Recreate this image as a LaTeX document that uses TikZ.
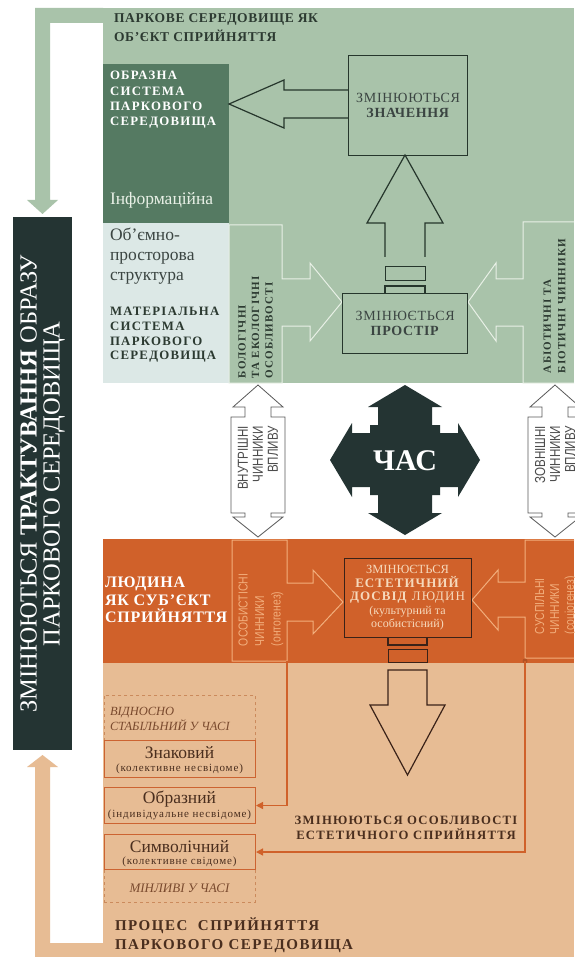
\documentclass[tikz,border=0pt]{standalone}
\usepackage{fontspec}
\setmainfont{Liberation Serif}
\newfontfamily\hdf[LetterSpace=10]{Liberation Serif}
\newfontfamily\hdg[LetterSpace=5]{Liberation Serif}
\newfontfamily\hdh[LetterSpace=8]{Liberation Serif}
\newfontfamily\nsans[FakeStretch=0.8]{Liberation Sans}
\usetikzlibrary{arrows.meta}
\definecolor{pgreen}{HTML}{A9C3AA}
\definecolor{dgreen}{HTML}{557A62}
\definecolor{pale}{HTML}{DCE8E6}
\definecolor{lline}{HTML}{E8F0E6}
\definecolor{dline}{HTML}{26362C}
\definecolor{dbox}{HTML}{243433}
\definecolor{orng}{HTML}{D0612A}
\definecolor{oline}{HTML}{F2AE7C}
\definecolor{tanc}{HTML}{E7BC94}
\definecolor{tline}{HTML}{CC6331}
\definecolor{tdash}{HTML}{CB8A5C}
\definecolor{ttext}{HTML}{4A2E1E}
\definecolor{gtext}{HTML}{2C3A31}
\definecolor{ltext}{HTML}{F6D9BC}
\definecolor{itext}{HTML}{7A4A2E}
\definecolor{dtext}{HTML}{3B4542}
\definecolor{edark}{HTML}{3A2218}
\begin{document}
\begin{tikzpicture}[x=1pt,y=-1pt,line join=miter,
  txt/.style={inner sep=0pt,outer sep=0pt},
  dl/.style={draw=dline,line width=1.2pt},
  ll/.style={draw=lline,line width=1pt},
  ol/.style={draw=oline,line width=1pt},
  el/.style={draw=edark,line width=1.2pt},
  sbox/.style={draw=tline,line width=1pt,minimum width=151,minimum height=#1,anchor=north west,inner sep=0pt},
  dbx/.style={draw=tdash,dashed,line width=0.8pt,minimum width=151,minimum height=#1,anchor=north west,inner sep=0pt},
  conn/.style={draw=orng,line width=1.3pt,-{Triangle[length=7pt,width=7pt]}},
  dblarr/.style={fill=white,draw=black!65,line width=0.8pt},
]
\useasboundingbox (0,0) rectangle (574,957);
\fill[white] (0,0) rectangle (574,957);

% ---------- green panel ----------
\fill[pgreen] (103,8) rectangle (574,383);
\fill[pgreen] (103,8) -- (35,8) -- (35,200) -- (27,200) -- (42.5,214) -- (58,200) -- (50,200) -- (50,23) -- (103,23) -- cycle;
\node[fill=dgreen,minimum width=126,minimum height=159,anchor=north west,inner sep=0pt] (obrsys) at (103,64) {};
\node[fill=pale,minimum width=126,minimum height=160,anchor=north west,inner sep=0pt] (matsys) at (103,223) {};

% left light column + arrow
\draw[ll] (229,225) -- (282,225) -- (282,279) -- (310,279) -- (310,263) -- (342,302) -- (310,341) -- (310,326) -- (282,326) -- (282,383) -- (229,383) -- cycle;
% right light column + arrow
\draw[ll] (574,222) -- (523,222) -- (523,279) -- (496,279) -- (496,263) -- (468,302) -- (496,341) -- (496,326) -- (523,326) -- (523,383) -- (574,383);

% ЗНАЧЕННЯ box and arrows
\node[dl,minimum width=119,minimum height=100,anchor=north west,inner sep=0pt] (znach) at (348,55) {};
\draw[dl] (znach.west |- 0,90) -- (284,90) -- (284,80) -- (229,104) -- (284,128) -- (284,118) -- (znach.west |- 0,118);
\draw[dl] (385,257) -- (385,223) -- (367,223) -- (405,155) -- (443,223) -- (425,223) -- (425,257);
\node[dl,minimum width=40,minimum height=14,anchor=north west,inner sep=0pt] (grect) at (385,266) {};
\draw[dl] (385,293) -- (385,286) -- (425,286) -- (425,293);
\node[dl,minimum width=125,minimum height=60,anchor=north west,inner sep=0pt] (prost) at (342,293) {};

% texts green
\node[txt,anchor=west,align=left,font=\hdg\bfseries\fontsize{13.5}{19}\selectfont,text=gtext] (title1) at (114,27.5) {ПАРКОВЕ СЕРЕДОВИЩЕ ЯК\\ОБ’ЄКТ СПРИЙНЯТТЯ};
\node[txt,anchor=west,align=left,font=\hdf\bfseries\fontsize{12.8}{15.3}\selectfont,text=white] (obrt) at (110,100) {ОБРАЗНА\\СИСТЕМА\\ПАРКОВОГО\\СЕРЕДОВИЩА};
\node[txt,anchor=west,font=\fontsize{17.5}{18}\selectfont,text=lline] (inf) at (110,200) {Інформаційна};
\node[txt,anchor=west,align=left,font=\fontsize{17.5}{20}\selectfont,text=dtext] (obm) at (110,256) {Об’ємно-\\просторова\\структура};
\node[txt,anchor=west,align=left,font=\hdf\bfseries\fontsize{12.8}{14.7}\selectfont,text=gtext] (matt) at (110,335) {МАТЕРІАЛЬНА\\СИСТЕМА\\ПАРКОВОГО\\СЕРЕДОВИЩА};
\node[txt,anchor=west,rotate=90,align=left,font=\hdf\bfseries\fontsize{11}{13.5}\selectfont,text=gtext] (biol) at (255.5,378) {БОЛОГІЧНІ\\ТА ЕКОЛОГІЧНІ\\ОСОБЛИВОСТІ};
\node[txt,anchor=west,rotate=90,align=left,font=\hdf\bfseries\fontsize{11}{14.5}\selectfont,text=gtext] (abio) at (554.5,373) {АБІОТИЧНІ ТА\\БІОТИЧНІ ЧИННИКИ};
\node[txt,align=center,font=\hdg\fontsize{14}{15}\selectfont,text=dtext] (znacht) at (znach.center) {ЗМІНЮЮТЬСЯ\\\textbf{ЗНАЧЕННЯ}};
\node[txt,align=center,font=\hdg\fontsize{14}{15}\selectfont,text=dtext] (prostt) at (prost.center) {ЗМІНЮЄТЬСЯ\\\textbf{ПРОСТІР}};

% ---------- dark left box ----------
\node[fill=dbox,minimum width=59,minimum height=533,anchor=north west,inner sep=0pt] (trakt) at (13,217) {};
\node[txt,rotate=90,align=center,font=\fontsize{24.5}{23}\selectfont,text=white] (traktt) at (trakt.center) {ЗМІНЮЮТЬСЯ \textbf{ТРАКТУВАННЯ} ОБРАЗУ\\ПАРКОВОГО СЕРЕДОВИЩА};

% ---------- ЧАС ----------
\fill[dbox] (405,385) -- (442,407) -- (432,407) -- (432,425) -- (440,425) -- (440,433) -- (458,433) -- (458,423) -- (480,460) -- (458,497) -- (458,487) -- (440,487) -- (440,495) -- (432,495) -- (432,513) -- (442,513) -- (405,535) -- (368,513) -- (378,513) -- (378,495) -- (370,495) -- (370,487) -- (352,487) -- (352,497) -- (330,460) -- (352,423) -- (352,433) -- (370,433) -- (370,425) -- (378,425) -- (378,407) -- (368,407) -- cycle;
\node[txt,font=\bfseries\fontsize{30}{30}\selectfont,text=white] (chas) at (405,461) {ЧАС};

% double arrows
\foreach \cx in {258,555}{
\draw[dblarr] (\cx,385) -- ++(25,22) -- ++(-12,0) -- ++(0,10) -- ++(14,0) -- ++(0,96) -- ++(-14,0) -- ++(0,4) -- ++(12,0) -- (\cx,537) -- ++(-25,-20) -- ++(12,0) -- ++(0,-4) -- ++(-14,0) -- ++(0,-96) -- ++(14,0) -- ++(0,-10) -- ++(-12,0) -- cycle;
}
\node[txt,anchor=east,rotate=90,align=right,font=\nsans\fontsize{14.5}{15}\selectfont,text=black!70] (dint) at (258,426) {ВНУТРІШНІ\\ЧИННИКИ\\ВПЛИВУ};
\node[txt,anchor=east,rotate=90,align=right,font=\nsans\fontsize{14.5}{15}\selectfont,text=black!70] (doutt) at (555,426) {ЗОВНІШНІ\\ЧИННИКИ\\ВПЛИВУ};

% ---------- orange band ----------
\fill[orng] (103,539) rectangle (574,663);
\draw[ol] (232,540) -- (287,540) -- (287,583) -- (313,583) -- (313,570) -- (343,602) -- (313,634) -- (313,621) -- (287,621) -- (287,661) -- (232,661) -- cycle;
\draw[ol] (574,540) -- (525,540) -- (525,582) -- (498,582) -- (498,570) -- (472,600) -- (498,630) -- (498,617) -- (525,617) -- (525,658) -- (574,658);
\node[el,minimum width=127,minimum height=79,anchor=north west,inner sep=0pt] (dosvid) at (344,558) {};
\node[txt,align=center,font=\hdh\fontsize{13}{13.5}\selectfont,text=ltext] (dosvt) at (407.5,598) {{\normalfont\fontsize{12.5}{13.5}\selectfont ЗМІНЮЄТЬСЯ}\\\textbf{ЕСТЕТИЧНИЙ}\\\textbf{ДОСВІД} ЛЮДИН\\{\normalfont\fontsize{12}{12.5}\selectfont (культурний та}\\{\normalfont\fontsize{12}{12.5}\selectfont особистісний)}};
\draw[el] (388,637) -- (388,645) -- (427,645) -- (427,637);
\node[el,minimum width=39,minimum height=13,anchor=north west,inner sep=0pt] (orect) at (388,649) {};
\node[txt,anchor=west,align=left,font=\hdg\bfseries\fontsize{16}{17.5}\selectfont,text=white] (lyud) at (105,600) {ЛЮДИНА\\ЯК СУБ’ЄКТ\\СПРИЙНЯТТЯ};
\node[txt,anchor=west,rotate=90,align=left,font=\nsans\fontsize{13}{16.5}\selectfont,text=oline] (osob) at (261,646) {ОСОБИСТІСНІ\\ЧИННИКИ\\(онтогенез)};
\node[txt,anchor=west,rotate=90,align=left,font=\nsans\fontsize{13}{15}\selectfont,text=oline] (susp) at (556,634) {СУСПІЛЬНІ\\ЧИННИКИ\\(соціогенез)};

% ---------- tan area ----------
\fill[tanc] (103,663) rectangle (574,957);
\fill[tanc] (103,943) -- (50,943) -- (50,767) -- (58,767) -- (42.5,755) -- (27,767) -- (35,767) -- (35,957) -- (103,957) -- cycle;
\draw[el] (388,705) -- (388,670) -- (427,670) -- (427,705) -- (445,705) -- (407.5,775) -- (370,705) -- cycle;

\node[dbx=45] (stab) at (104,695) {};
\node[dbx=33] (minl) at (104,869) {};
\node[sbox=37,fill=tanc] (znak) at (104,740) {};
\node[sbox=36] (obraz) at (104,787) {};
\node[sbox=35,fill=tanc] (symb) at (104,834) {};
\node[txt,anchor=west,align=left,font=\itshape\fontsize{12.5}{15}\selectfont,text=itext] (stabt) at (110,719) {ВІДНОСНО\\СТАБІЛЬНИЙ У ЧАСІ};
\node[txt,font=\fontsize{17.5}{18}\selectfont,text=ttext] (znakt) at (179.5,753) {Знаковий};
\node[txt,font=\hdh\fontsize{11}{12}\selectfont,text=ttext] (znaks) at (179.5,769) {(колективне несвідоме)};
\node[txt,font=\fontsize{17.5}{18}\selectfont,text=ttext] (obrazt) at (179.5,799) {Образний};
\node[txt,font=\hdh\fontsize{11}{12}\selectfont,text=ttext] (obrazs) at (179.5,815) {(індивідуальне несвідоме)};
\node[txt,font=\fontsize{17.5}{18}\selectfont,text=ttext] (symbt) at (179.5,847) {Символічний};
\node[txt,font=\hdh\fontsize{11}{12}\selectfont,text=ttext] (symbs) at (179.5,862) {(колективне свідоме)};
\node[txt,font=\itshape\fontsize{13}{13}\selectfont,text=itext] (minlt) at (179.5,888) {МІНЛИВІ У ЧАСІ};

\coordinate (lbot) at (287,661);
\coordinate (rbot) at (525,661);
\fill[orng!85!black] (rbot) circle (2.5);
\draw[conn] (lbot) |- (obraz.east);
\draw[conn] (rbot) |- (symb.east);

\node[txt,align=center,font=\hdf\bfseries\fontsize{12.7}{15}\selectfont,text=ttext] (osobl) at (406,828) {ЗМІНЮЮТЬСЯ ОСОБЛИВОСТІ\\ЕСТЕТИЧНОГО СПРИЙНЯТТЯ};
\node[txt,anchor=west,align=left,font=\hdf\bfseries\fontsize{15}{19}\selectfont,text=ttext] (proc) at (115,935) {ПРОЦЕС\ \ СПРИЙНЯТТЯ\\ПАРКОВОГО СЕРЕДОВИЩА};
\end{tikzpicture}
\end{document}
